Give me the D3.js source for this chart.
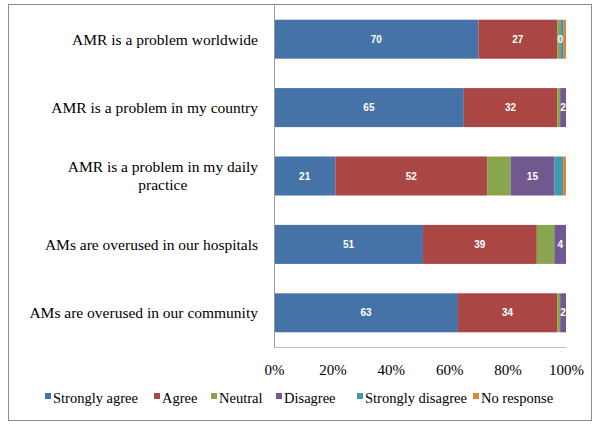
<!DOCTYPE html>
<html>
<head>
<meta charset="utf-8">
<script src="https://cdn.jsdelivr.net/npm/d3@7"></script>
<style>
  html, body { margin: 0; padding: 0; background: #fff; }
  svg { display: block; }
</style>
</head>
<body>
<svg id="chart" width="600" height="427"></svg>
<script>
// ---- Data ----
const categories = [
  "AMR is a problem worldwide",
  "AMR is a problem in my country",
  "AMR is a problem in my daily practice",
  "AMs are overused in our hospitals",
  "AMs are overused in our community"
];
const categoryLines = [
  ["AMR is a problem worldwide"],
  ["AMR is a problem in my country"],
  ["AMR is a problem in my daily", "practice"],
  ["AMs are overused in our hospitals"],
  ["AMs are overused in our community"]
];
const seriesNames = ["Strongly agree", "Agree", "Neutral", "Disagree", "Strongly disagree", "No response"];
const stronglyAgree    = [70, 65, 21, 51, 63];
const agree            = [27, 32, 52, 39, 34];
const neutral          = [1, 1, 8, 6, 1];
const disagree         = [0, 2, 15, 4, 2];
const stronglyDisagree = [1, 0, 3, 0, 0];
const noResponse       = [1, 0, 1, 0, 0];
const labeledSeries = ["Strongly agree", "Agree", "Disagree"];
const tickValues = [0, 20, 40, 60, 80, 100];
const colors = ["#4572A7", "#AA4643", "#89A54E", "#71588F", "#4198AF", "#DB843D"];

const SERIF = '"Liberation Serif"';

// ---- Build table ----
const seriesArrays = [stronglyAgree, agree, neutral, disagree, stronglyDisagree, noResponse];
const table = categories.map((c, i) => {
  const row = { category: c, idx: i };
  seriesNames.forEach((s, j) => row[s] = seriesArrays[j][i]);
  return row;
});
const stacked = d3.stack().keys(seriesNames)(table);

// ---- Layout ----
const svg = d3.select("#chart");
const plot = { left: 274, right: 566, top: 5, bottom: 347 };

const x = d3.scaleLinear().domain([0, 100]).range([plot.left, plot.right]);
const y = d3.scaleBand().domain(categories).range([plot.top, plot.bottom]).paddingInner(0.43).paddingOuter(0.215);
const color = d3.scaleOrdinal().domain(seriesNames).range(colors);

// Outer border
svg.append("rect")
  .attr("x", 8.5).attr("y", 4.5).attr("width", 583).attr("height", 416)
  .attr("fill", "#fff").attr("stroke", "#8c8c8c").attr("stroke-width", 1);

// Bars
const layers = svg.append("g").selectAll("g")
  .data(stacked).join("g")
  .attr("fill", d => color(d.key));

layers.selectAll("rect")
  .data(d => d.map(p => Object.assign(p, { key: d.key })))
  .join("rect")
  .attr("x", d => x(d[0]))
  .attr("y", d => y(d.data.category))
  .attr("width", d => Math.max(0, x(d[1]) - x(d[0])))
  .attr("height", y.bandwidth());

// Data labels
const labelG = svg.append("g");
stacked.filter(s => labeledSeries.includes(s.key)).forEach(s => {
  s.forEach(p => {
    labelG.append("text")
      .attr("x", (x(p[0]) + x(p[1])) / 2)
      .attr("y", y(p.data.category) + y.bandwidth() / 2)
      .attr("dy", "0.35em")
      .attr("text-anchor", "middle")
      .style("font-family", '"Liberation Sans"')
      .style("font-weight", "bold")
      .style("font-size", "10px")
      .attr("fill", "#fff")
      .text(d3.format("d")(p.data[s.key]));
  });
});

// Axes
const xAxis = d3.axisBottom(x).tickValues(tickValues).tickFormat(d => d + "%").tickSize(0).tickPadding(17);
const gx = svg.append("g").attr("transform", `translate(0,${plot.bottom})`).call(xAxis);
gx.select(".domain").attr("stroke", "#bfbfbf");
gx.selectAll("text")
  .style("font-family", SERIF)
  .style("font-size", "15px")
  .attr("fill", "#000")
  .attr("dy", "0.75em");

const yAxis = d3.axisLeft(y).tickSize(0).tickFormat("");
const gy = svg.append("g").attr("transform", `translate(${plot.left},0)`).call(yAxis);
gy.select(".domain").attr("stroke", "#9a9a9a");

// Category labels
const catG = svg.append("g");
categories.forEach((c, i) => {
  const lines = categoryLines[i];
  const cy = y(c) + y.bandwidth() / 2;
  const lh = 18;
  const startY = cy - (lines.length - 1) * lh / 2;
  const first = catG.append("text")
    .style("font-family", SERIF).style("font-size", "15.5px").attr("fill", "#000")
    .attr("x", 258).attr("y", startY).attr("dy", "0.35em")
    .attr("text-anchor", "end").text(lines[0]);
  if (lines.length > 1) {
    const w = first.node().getComputedTextLength();
    const center = 258 - w / 2;
    for (let k = 1; k < lines.length; k++) {
      catG.append("text")
        .style("font-family", SERIF).style("font-size", "15.5px").attr("fill", "#000")
        .attr("x", center).attr("y", startY + k * lh).attr("dy", "0.35em")
        .attr("text-anchor", "middle").text(lines[k]);
    }
  }
});

// Legend (item start positions follow the reference's legend spacing)
const legendX = [45, 154, 211, 276, 357, 473];
const legend = svg.append("g");
seriesNames.forEach((s, i) => {
  const lx = legendX[i];
  legend.append("rect").attr("x", lx).attr("y", 393).attr("width", 6).attr("height", 6).attr("fill", color(s));
  legend.append("text")
    .style("font-family", SERIF).style("font-size", "14.5px").attr("fill", "#000")
    .attr("x", lx + 8).attr("y", 403).text(s);
});
</script>
</body>
</html>
